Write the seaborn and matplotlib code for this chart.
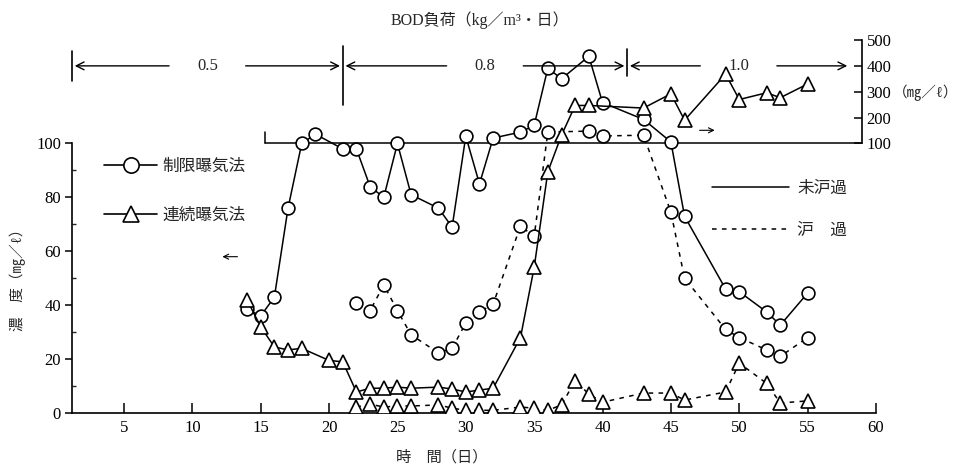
import numpy as np
import pandas as pd
import matplotlib
matplotlib.use("Agg")
import matplotlib.pyplot as plt
import seaborn as sns
from matplotlib.lines import Line2D

# ---------------- data (mg/l; values above 100 are read on the right-hand scale) ----------------
days_r_raw = [14, 15, 16, 17, 18, 19, 21, 22, 23, 24, 25, 26, 28, 29, 30, 31, 32, 34, 35, 36,
              37, 39, 40, 43, 45, 46, 49, 50, 52, 53, 55]
vals_r_raw = [38.5, 36, 43, 76, 100, 136, 98, 98, 84, 80, 100, 81, 76, 69, 128, 85, 121, 144, 170, 391,
              350, 437, 258, 193, 106, 73, 46, 45, 37.5, 32.6, 44.5]

days_r_filt = [22, 23, 24, 25, 26, 28, 29, 30, 31, 32, 34, 35, 36, 39, 40, 43, 45, 46, 49, 50, 52, 53, 55]
vals_r_filt = [41, 38, 47.5, 38, 29, 22.3, 24, 33.4, 37.5, 40.4, 69.4, 65.5, 144, 148, 129, 132,
               74.5, 50, 31, 28, 23.4, 21, 28]

days_c_raw = [14, 15, 16, 17, 18, 20, 21, 22, 23, 24, 25, 26, 28, 29, 30, 31, 32, 34, 35, 36,
              37, 38, 39, 43, 45, 46, 49, 50, 52, 53, 55]
vals_c_raw = [42, 32, 24.5, 23.4, 24, 19.5, 19, 7.8, 9.2, 9.2, 9.6, 9.2, 9.6, 8.9, 7.8, 8.5, 9.2, 28, 54, 89.5,
              132, 247, 247, 237, 292, 190, 368, 270, 296, 277, 330]

days_c_filt = [22, 23, 24, 25, 26, 28, 29, 30, 31, 32, 34, 35, 36, 37, 38, 39, 40, 43, 45, 46, 49, 50, 52, 53, 55]
vals_c_filt = [2.2, 3.3, 2.2, 2.6, 2.6, 3, 1.8, 1, 1, 1, 2.2, 1.8, 1, 3, 12, 7, 4, 7.4, 7.4, 4.8,
               7.8, 18.5, 11, 3.7, 4.5]

methods = ["制限曝気法", "連続曝気法"]
filters = ["未沪過", "沪　過"]
load_labels = ["0.5", "0.8", "1.0"]
load_bounds = [1.2, 21.0, 41.8, 58.1]
x_ticks = list(range(5, 61, 5))
left_ticks = [0, 20, 40, 60, 80, 100]
right_ticks = [100, 200, 300, 400, 500]

# ---------------- style ----------------
sns.set_theme(style="white")
plt.rcParams["font.family"] = ["Liberation Serif", "Noto Sans CJK JP", "DejaVu Sans"]
plt.rcParams["axes.linewidth"] = 1.2

K = 0.096  # compression of the upper (right-hand) scale above 100


def fwd(v):
    v = np.asarray(v, dtype=float)
    return np.where(v <= 100, v, 100 + (v - 100) * K)


def inv(u):
    u = np.asarray(u, dtype=float)
    return np.where(u <= 100, u, 100 + (u - 100) / K)


fig = plt.figure(figsize=(9.75, 4.68), dpi=100)
ax = fig.add_axes([72 / 975, 1 - 413 / 468, (876 - 72) / 975, (413 - 40) / 468])
ax.set_facecolor("white")

series = [
    (days_r_raw, vals_r_raw, "o", "-"),
    (days_r_filt, vals_r_filt, "o", (0, (3, 3.5))),
    (days_c_raw, vals_c_raw, "^", "-"),
    (days_c_filt, vals_c_filt, "^", (0, (3, 3.5))),
]
for d, v, m, ls in series:
    df = pd.DataFrame({"day": d, "value": v})
    sns.lineplot(data=df, x="day", y="value", ax=ax, color="black", marker=m,
                 markersize=9.2 if m == "o" else 10, markerfacecolor="white",
                 markeredgecolor="black", markeredgewidth=1.2, linewidth=1.1,
                 linestyle=ls, estimator=None, sort=False, legend=False, zorder=3)

ax.set_yscale("function", functions=(fwd, inv))
ax.set_xlim(1.2, 60)
ax.set_ylim(0, 500)
ax.set_xlabel("")
ax.set_ylabel("")

ax.set_xticks(x_ticks)
ax.set_yticks(left_ticks)
ax.set_yticks([10, 30, 50, 70, 90], minor=True)
ax.tick_params(axis="x", direction="in", length=7, width=1.1, labelsize=12, pad=5,
               bottom=True, colors="black")
ax.tick_params(axis="y", which="major", direction="out", length=5, width=1.1, labelsize=12,
               pad=3, left=True, colors="black")
ax.tick_params(axis="y", which="minor", direction="in", length=3, width=1, left=True)
for s in ["top", "right"]:
    ax.spines[s].set_visible(False)
ax.spines["left"].set_bounds(0, 100)
ax.spines["bottom"].set_bounds(1.2, 60)
for s in ["left", "bottom"]:
    ax.spines[s].set_color("black")

# right-hand scale
ax2 = ax.twinx()
ax2.set_yscale("function", functions=(fwd, inv))
ax2.set_ylim(0, 500)
ax2.set_yticks(right_ticks)
ax2.tick_params(axis="y", direction="in", length=6, width=1.1, labelsize=12, pad=3,
                right=True, colors="black")
for s in ["top", "left", "bottom"]:
    ax2.spines[s].set_visible(False)
ax2.spines["right"].set_position(("data", 59))
ax2.spines["right"].set_bounds(100, 500)
ax2.spines["right"].set_color("black")

# separating line at 100
ax.plot([15.3, 59], [100, 100], color="black", lw=1.1, zorder=2)
ax.plot([15.3, 15.3], [100, 145], color="black", lw=1.1, zorder=2)

# BOD load phases
arrow_kw = dict(arrowstyle="->", lw=1.0, color="black", shrinkA=0, shrinkB=0,
                mutation_scale=14)
bar_spans = [(342, 456), (247, 475), (361, 464)]
for i, lab in enumerate(load_labels):
    a, b = load_bounds[i], load_bounds[i + 1]
    mid = (a + b) / 2
    ax.text(mid, 400, lab, ha="center", va="center", fontsize=12, zorder=4)
    ax.annotate("", xy=(a + 0.2, 400), xytext=(mid - 2.8, 400), arrowprops=arrow_kw)
    ax.annotate("", xy=(b - 0.2, 400), xytext=(mid + 2.8, 400), arrowprops=arrow_kw)
for xb, (y0, y1) in zip(load_bounds[:3], bar_spans):
    ax.plot([xb, xb], [y0, y1], color="black", lw=1.2, clip_on=False)

# small pointer arrows toward each scale
small_kw = dict(arrowstyle="->", lw=0.8, color="black", shrinkA=0, shrinkB=0, mutation_scale=9)
ax.annotate("", xy=(12.2, 58), xytext=(13.3, 58), arrowprops=small_kw)
ax.annotate("", xy=(48.2, 151), xytext=(47.1, 151), arrowprops=small_kw)

# legends
h1 = [Line2D([], [], color="black", marker="o", markersize=11, markerfacecolor="white",
             markeredgecolor="black", markeredgewidth=1.2, lw=1.2),
      Line2D([], [], color="black", marker="^", markersize=12, markerfacecolor="white",
             markeredgecolor="black", markeredgewidth=1.2, lw=1.2)]
fig.legend(h1, methods, loc="upper left", bbox_to_anchor=(104 / 975, 1 - 159 / 468),
           frameon=False, handlelength=3.2, handletextpad=0.3, labelspacing=1.95,
           borderpad=0, borderaxespad=0, fontsize=12, numpoints=1)
h2 = [Line2D([], [], color="black", lw=1.1),
      Line2D([], [], color="black", lw=1.1, linestyle=(0, (3, 3.5)))]
fig.legend(h2, filters, loc="upper left", bbox_to_anchor=(712 / 975, 1 - 181 / 468),
           frameon=False, handlelength=4.6, handletextpad=0.5, labelspacing=1.55,
           borderpad=0, borderaxespad=0, fontsize=12)

# texts
fig.text(480 / 975, 1 - 20 / 468, "BOD負荷（kg／m³・日）", ha="center", va="center", fontsize=11.5)
fig.text(893 / 975, 1 - 93 / 468, "（㎎／ℓ）", ha="left", va="center", fontsize=10.5)
fig.text(18 / 975, 1 - 276 / 468, "濃　度（㎎／ℓ）", rotation=90, ha="center", va="center",
         fontsize=10.5)
fig.text(442 / 975, 1 - 457 / 468, "時　間（日）", ha="center", va="center", fontsize=11)

fig.savefig("out.png", dpi=100, facecolor="white")
